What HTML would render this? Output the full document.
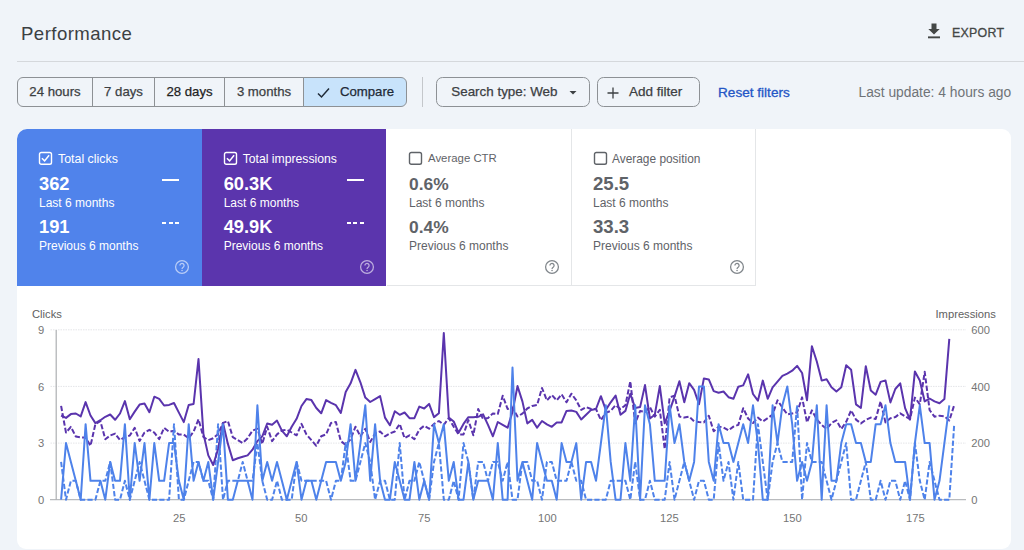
<!DOCTYPE html>
<html><head><meta charset="utf-8">
<style>
*{box-sizing:border-box;margin:0;padding:0}
html,body{width:1024px;height:550px;overflow:hidden;background:#f0f4f9;font-family:"Liberation Sans",sans-serif;color:#1f1f1f}
.abs{position:absolute}
#title{left:21px;top:23px;font-size:18.6px;color:#3c4043;letter-spacing:0.45px}
#hr{left:17px;top:61px;width:1007px;height:1px;background:#d5d8dc}
#export{left:952px;top:25.500px;font-size:12.4px;color:#444746;letter-spacing:0.25px;-webkit-text-stroke:0.3px currentColor}
.seg{top:77px;height:30px;border:1px solid #8d9195;font-size:13.2px;line-height:28.200px;-webkit-text-stroke:0.25px currentColor;text-align:center;color:#3c4043;background:#f0f4f9}
.btn{top:77px;height:30px;border:1px solid #8d9195;border-radius:6.500px;font-size:13.5px;line-height:28.200px;color:#3c4043;-webkit-text-stroke:0.25px currentColor}
#card{left:17px;top:128.500px;width:994px;height:420.500px;background:#fff;border-radius:9px}
.tile{top:128.500px;height:157px;width:185px}
.tile .lab{position:absolute;left:41px;top:23.300px;font-size:12.4px}
.tile .v1{position:absolute;left:22px;top:44.500px;font-size:18.3px;font-weight:bold}
.tile .s1{position:absolute;left:22px;top:67.500px;font-size:12px}
.tile .v2{position:absolute;left:22px;top:87.500px;font-size:18.3px;font-weight:bold}
.tile .s2{position:absolute;left:22px;top:110px;font-size:12px}
.ax{font-size:11.2px;color:#757575}
</style></head><body>
<div class="abs" id="title">Performance</div>
<div class="abs" id="export">EXPORT</div>
<svg class="abs" style="left:926px;top:22px" width="16" height="18" viewBox="0 0 16 18"><path d="M5.5 1.5h5v5.5h3.2L8 12.6 2.3 7h3.2z" fill="#444746"/><rect x="2" y="14.4" width="12" height="1.9" fill="#444746"/></svg>
<div class="abs" id="hr"></div>

<div class="abs seg" style="left:17px;width:76px;border-radius:6px 0 0 6px">24 hours</div>
<div class="abs seg" style="left:92px;width:63px">7 days</div>
<div class="abs seg" style="left:154px;width:71px;color:#1f1f1f">28 days</div>
<div class="abs seg" style="left:224px;width:80px">3 months</div>
<div class="abs seg" style="left:303px;width:104px;border-radius:0 6px 6px 0;background:#c8e3fb;color:#1f2a37;padding-left:24px">Compare</div>
<svg class="abs" style="left:316px;top:85.500px" width="16" height="14" viewBox="0 0 16 14"><path d="M2 7.5l3.5 3.5L13 2.5" fill="none" stroke="#1f2a37" stroke-width="1.5"/></svg>
<div class="abs" style="left:421.500px;top:77px;width:1px;height:30px;background:#c4c7cb"></div>
<div class="abs btn" style="left:436px;width:154px;padding-left:14.3px;font-size:13.4px">Search type: Web</div>
<svg class="abs" style="left:567.500px;top:89.500px" width="10" height="6" viewBox="0 0 10 6"><path d="M1.5 1h7L5 4.6z" fill="#3c4043"/></svg>
<div class="abs btn" style="left:597px;width:103px;padding-left:31px">Add filter</div>
<svg class="abs" style="left:606px;top:85.500px" width="14" height="14" viewBox="0 0 14 14"><path d="M7 1.5v11M1.5 7h11" stroke="#3c4043" stroke-width="1.3"/></svg>
<div class="abs" style="left:718px;top:84.500px;font-size:13.6px;color:#2456c6;-webkit-text-stroke:0.3px currentColor">Reset filters</div>
<div class="abs" style="left:858.500px;top:84.500px;font-size:13.8px;color:#6f7377">Last update: 4 hours ago</div>

<div class="abs" id="card"></div>
<div class="abs tile" style="left:17px;width:184.700px;background:#5083eb;color:#fff;border-radius:10px 0 0 0">
 <div class="lab">Total clicks</div><div class="v1">362</div><div class="s1">Last 6 months</div><div class="v2">191</div><div class="s2">Previous 6 months</div>
</div>
<div class="abs tile" style="left:201.700px;width:184.600px;background:#5b35ad;color:#fff">
 <div class="lab" style="font-size:12.2px">Total impressions</div><div class="v1">60.3K</div><div class="s1">Last 6 months</div><div class="v2">49.9K</div><div class="s2">Previous 6 months</div>
</div>
<div class="abs tile" style="left:387px;color:#5f6368;border-right:1px solid #e4e6e8;border-bottom:1px solid #e4e6e8">
 <div class="lab" style="font-size:11.4px;top:23.800px">Average CTR</div><div class="v1" style="font-size:17.4px;top:45px">0.6%</div><div class="s1">Last 6 months</div><div class="v2" style="font-size:17.4px;top:88px">0.4%</div><div class="s2">Previous 6 months</div>
</div>
<div class="abs tile" style="left:571px;color:#5f6368;border-right:1px solid #e4e6e8;border-bottom:1px solid #e4e6e8">
 <div class="lab" style="font-size:11.9px;top:23.600px">Average position</div><div class="v1" style="font-size:18.6px">25.5</div><div class="s1">Last 6 months</div><div class="v2" style="font-size:18.6px">33.3</div><div class="s2">Previous 6 months</div>
</div>

<svg class="abs" style="left:38.3px;top:150.8px" width="15" height="15" viewBox="0 0 15 15"><rect x="1.5" y="1.500" width="12" height="11.800" rx="1.8" fill="none" stroke="#fff" stroke-width="1.4"/><path d="M3.900 7.300L6.600 9.900L11.100 4.300" fill="none" stroke="#fff" stroke-width="1.5"/></svg>
<svg class="abs" style="left:223.0px;top:150.8px" width="15" height="15" viewBox="0 0 15 15"><rect x="1.5" y="1.500" width="12" height="11.800" rx="1.8" fill="none" stroke="#fff" stroke-width="1.4"/><path d="M3.900 7.300L6.600 9.900L11.100 4.300" fill="none" stroke="#fff" stroke-width="1.5"/></svg>
<svg class="abs" style="left:408.3px;top:150.8px" width="15" height="15" viewBox="0 0 15 15"><rect x="1.5" y="1.500" width="12" height="11.800" rx="1.8" fill="none" stroke="#5f6368" stroke-width="1.4"/></svg>
<svg class="abs" style="left:592.8px;top:150.8px" width="15" height="15" viewBox="0 0 15 15"><rect x="1.5" y="1.500" width="12" height="11.800" rx="1.8" fill="none" stroke="#5f6368" stroke-width="1.4"/></svg>
<svg class="abs" style="left:174.1px;top:258.9px" width="16" height="16" viewBox="0 0 16 16"><circle cx="8" cy="8" r="6.400" fill="none" stroke="rgba(255,255,255,.6)" stroke-width="1.25"/><path d="M5.900 6.500a2.100 2.100 0 1 1 3.300 1.700c-.8.550-1.150.9-1.150 1.750" fill="none" stroke="rgba(255,255,255,.6)" stroke-width="1.25"/><circle cx="8.050" cy="11.450" r=".8" fill="rgba(255,255,255,.6)"/></svg>
<svg class="abs" style="left:358.8px;top:258.9px" width="16" height="16" viewBox="0 0 16 16"><circle cx="8" cy="8" r="6.400" fill="none" stroke="rgba(255,255,255,.6)" stroke-width="1.25"/><path d="M5.900 6.500a2.100 2.100 0 1 1 3.300 1.700c-.8.550-1.150.9-1.150 1.750" fill="none" stroke="rgba(255,255,255,.6)" stroke-width="1.25"/><circle cx="8.050" cy="11.450" r=".8" fill="rgba(255,255,255,.6)"/></svg>
<svg class="abs" style="left:543.9px;top:258.9px" width="16" height="16" viewBox="0 0 16 16"><circle cx="8" cy="8" r="6.400" fill="none" stroke="#80868b" stroke-width="1.25"/><path d="M5.900 6.500a2.100 2.100 0 1 1 3.300 1.700c-.8.550-1.150.9-1.150 1.750" fill="none" stroke="#80868b" stroke-width="1.25"/><circle cx="8.050" cy="11.450" r=".8" fill="#80868b"/></svg>
<svg class="abs" style="left:728.5px;top:258.9px" width="16" height="16" viewBox="0 0 16 16"><circle cx="8" cy="8" r="6.400" fill="none" stroke="#80868b" stroke-width="1.25"/><path d="M5.900 6.500a2.100 2.100 0 1 1 3.300 1.700c-.8.550-1.150.9-1.150 1.750" fill="none" stroke="#80868b" stroke-width="1.25"/><circle cx="8.050" cy="11.450" r=".8" fill="#80868b"/></svg>
<div class="abs" style="left:161.8px;top:179.200px;width:17.700px;height:2px;background:#fff"></div>
<div class="abs" style="left:161.8px;top:222px;width:4.200px;height:2.200px;background:#fff"></div>
<div class="abs" style="left:168.6px;top:222px;width:4.200px;height:2.200px;background:#fff"></div>
<div class="abs" style="left:175.3px;top:222px;width:4.200px;height:2.200px;background:#fff"></div>
<div class="abs" style="left:346.5px;top:179.200px;width:17.700px;height:2px;background:#fff"></div>
<div class="abs" style="left:346.5px;top:222px;width:4.200px;height:2.200px;background:#fff"></div>
<div class="abs" style="left:353.2px;top:222px;width:4.200px;height:2.200px;background:#fff"></div>
<div class="abs" style="left:360.0px;top:222px;width:4.200px;height:2.200px;background:#fff"></div>
<svg class="abs" id="chart" style="left:0;top:290px" width="1024" height="260" viewBox="0 290 1024 260">
<g stroke="#e4e5e8" stroke-width="1" stroke-dasharray="1.5 1"><path d="M50.500 329.800H966M50.500 386.400H966M50.500 443.100H966"/></g>
<path d="M50 499.700H966" stroke="#b9bbbe" stroke-width="1.2"/>
<path d="M56.200 330V499.700" stroke="#adafb2" stroke-width="1.2"/>
<!--S0-->
<g fill="none" stroke-linejoin="round" stroke-linecap="butt">
<path d="M61.1 405.9L66.0 432.6L70.9 426.9L75.8 436.5L80.7 437.4L85.6 437.4L90.5 445.8L95.4 424.0L100.4 421.2L105.3 439.3L110.2 435.5L115.1 433.6L120.0 440.1L124.9 437.2L129.8 435.5L134.7 427.9L139.6 441.0L144.5 432.6L149.4 429.8L154.3 432.6L159.2 439.2L164.1 427.9L169.1 431.7L174.0 430.7L178.9 434.6L183.8 434.6L188.7 438.2L193.6 431.7L198.5 419.3L203.4 437.0L208.3 440.1L213.2 438.2L218.1 434.0L223.0 422.9L227.9 421.0L232.8 437.2L237.8 440.1L242.7 443.0L247.6 438.2L252.5 430.6L257.4 428.7L262.3 443.9L267.2 426.7L272.1 441.1L277.0 434.4L281.9 430.6L286.8 429.6L291.7 432.5L296.6 435.3L301.5 423.9L306.4 434.4L311.4 440.1L316.3 445.8L321.2 436.3L326.1 434.4L331.0 422.9L335.9 422.0L340.8 441.1L345.7 444.9L350.6 439.2L355.5 426.7L360.4 436.3L365.3 428.7L370.2 442.0L375.1 433.4L380.1 431.5L385.0 436.3L389.9 433.4L394.8 431.5L399.7 423.9L404.6 438.2L409.5 435.3L414.4 439.2L419.3 429.6L424.2 425.8L429.1 428.7L434.0 423.9L438.9 421.0L443.8 424.8L448.8 418.1L453.7 426.7L458.6 434.4L463.5 434.4L468.4 420.1L473.3 435.3L478.2 409.0L483.1 419.1L488.0 418.1L492.9 413.4L497.8 414.0L502.7 395.7L507.6 409.0L512.5 407.5L517.5 416.5L522.4 413.6L527.3 408.5L532.2 406.0L537.1 405.0L542.0 388.0L546.9 400.4L551.8 395.0L556.7 400.4L561.6 394.3L566.5 402.3L571.4 393.7L576.3 400.4L581.2 409.9L586.1 407.1L591.1 409.0L596.0 409.0L600.9 420.1L605.8 412.8L610.7 410.9L615.6 405.2L620.5 409.0L625.4 405.2L630.3 381.3L635.2 423.3L640.1 410.9L645.0 411.9L649.9 407.1L654.8 416.6L659.8 409.9L664.7 449.0L669.6 397.5L674.5 395.6L679.4 416.6L684.3 417.6L689.2 416.6L694.1 421.4L699.0 422.0L703.9 422.4L708.8 415.7L713.7 431.3L718.6 426.6L723.5 427.5L728.5 430.4L733.4 426.6L738.3 424.9L743.2 408.2L748.1 418.5L753.0 423.0L757.9 417.6L762.8 421.4L767.7 418.2L772.6 414.6L777.5 400.3L782.4 407.5L787.3 414.4L792.2 413.5L797.1 412.5L802.1 397.4L807.0 422.3L811.9 410.4L816.8 419.5L821.7 424.9L826.6 429.0L831.5 423.0L836.4 420.4L841.3 429.0L846.2 421.8L851.1 410.4L856.0 419.6L860.9 423.4L865.8 419.9L870.8 417.6L875.7 419.0L880.6 401.4L885.5 422.4L890.4 418.2L895.3 417.1L900.2 413.3L905.1 416.3L910.0 419.0L914.9 397.6L919.8 404.3L924.7 371.8L929.6 410.0L934.5 416.7L939.5 415.7L944.4 416.3L949.3 420.5L954.2 405.2" stroke="#5a34ad" stroke-width="2" stroke-dasharray="5.2 2.2"/>
<path d="M61.1 461.9L66.0 499.7L70.9 480.8L75.8 480.8L80.7 499.7L85.6 499.7L90.5 499.7L95.4 499.7L100.4 480.8L105.3 480.8L110.2 461.9L115.1 499.7L120.0 499.7L124.9 480.8L129.8 499.7L134.7 480.8L139.6 461.9L144.5 480.8L149.4 499.7L154.3 499.7L159.2 499.7L164.1 499.7L169.1 499.7L174.0 424.2L178.9 499.7L183.8 499.7L188.7 480.8L193.6 461.9L198.5 461.9L203.4 480.8L208.3 480.8L213.2 499.7L218.1 424.2L223.0 499.7L227.9 480.8L232.8 480.8L237.8 480.8L242.7 461.9L247.6 480.8L252.5 480.8L257.4 443.1L262.3 480.8L267.2 499.7L272.1 499.7L277.0 480.8L281.9 499.7L286.8 499.7L291.7 499.7L296.6 461.9L301.5 480.8L306.4 480.8L311.4 480.8L316.3 480.8L321.2 480.8L326.1 480.8L331.0 499.7L335.9 480.8L340.8 480.8L345.7 443.1L350.6 480.8L355.5 480.8L360.4 461.9L365.3 443.1L370.2 461.9L375.1 499.7L380.1 480.8L385.0 480.8L389.9 499.7L394.8 499.7L399.7 443.1L404.6 499.7L409.5 480.8L414.4 480.8L419.3 461.9L424.2 480.8L429.1 499.7L434.0 461.9L438.9 443.1L443.8 499.7L448.8 499.7L453.7 480.8L458.6 499.7L463.5 443.1L468.4 461.9L473.3 499.7L478.2 461.9L483.1 461.9L488.0 480.8L492.9 461.9L497.8 461.9L502.7 480.8L507.6 461.9L512.5 499.7L517.5 499.7L522.4 461.9L527.3 461.9L532.2 480.8L537.1 480.8L542.0 499.7L546.9 461.9L551.8 461.9L556.7 480.8L561.6 480.8L566.5 480.8L571.4 461.9L576.3 480.8L581.2 480.8L586.1 499.7L591.1 499.7L596.0 499.7L600.9 499.7L605.8 499.7L610.7 480.8L615.6 480.8L620.5 480.8L625.4 480.8L630.3 499.7L635.2 461.9L640.1 499.7L645.0 499.7L649.9 480.8L654.8 499.7L659.8 499.7L664.7 499.7L669.6 461.9L674.5 499.7L679.4 480.8L684.3 461.9L689.2 480.8L694.1 499.7L699.0 480.8L703.9 480.8L708.8 499.7L713.7 499.7L718.6 443.1L723.5 480.8L728.5 461.9L733.4 499.7L738.3 461.9L743.2 499.7L748.1 499.7L753.0 499.7L757.9 424.2L762.8 461.9L767.7 499.7L772.6 461.9L777.5 443.1L782.4 461.9L787.3 461.9L792.2 461.9L797.1 405.3L802.1 499.7L807.0 443.1L811.9 461.9L816.8 461.9L821.7 461.9L826.6 480.8L831.5 499.7L836.4 480.8L841.3 461.9L846.2 443.1L851.1 499.7L856.0 499.7L860.9 480.8L865.8 461.9L870.8 499.7L875.7 499.7L880.6 480.8L885.5 499.7L890.4 480.8L895.3 480.8L900.2 499.7L905.1 480.8L910.0 499.7L914.9 443.1L919.8 480.8L924.7 499.7L929.6 461.9L934.5 480.8L939.5 499.7L944.4 499.7L949.3 499.7L954.2 424.2" stroke="#4e82ea" stroke-width="2" stroke-dasharray="5.2 2.2"/>
<path d="M61.1 415.5L66.0 417.9L70.9 414.1L75.8 413.5L80.7 416.4L85.6 402.1L90.5 415.5L95.4 423.1L100.4 420.2L105.3 416.8L110.2 414.5L115.1 419.8L120.0 413.5L124.9 401.1L129.8 419.3L134.7 411.6L139.6 404.6L144.5 403.6L149.4 412.2L154.3 396.7L159.2 398.8L164.1 405.5L169.1 404.9L174.0 403.0L178.9 412.6L183.8 422.1L188.7 404.9L193.6 404.0L198.5 359.1L203.4 433.6L208.3 455.4L213.2 465.0L218.1 449.0L223.0 422.9L227.9 443.9L232.8 460.2L237.8 458.3L242.7 456.7L247.6 455.4L252.5 449.7L257.4 441.1L262.3 436.3L267.2 423.5L272.1 424.8L277.0 420.6L281.9 430.6L286.8 436.3L291.7 426.7L296.6 418.8L301.5 406.0L306.4 399.1L311.4 400.1L316.3 408.0L321.2 413.3L326.1 400.1L331.0 402.9L335.9 405.2L340.8 412.9L345.7 391.9L350.6 383.3L355.5 369.9L360.4 382.3L365.3 397.6L370.2 402.0L375.1 399.1L380.1 396.1L385.0 417.6L389.9 425.3L394.8 411.3L399.7 414.8L404.6 412.5L409.5 418.2L414.4 418.2L419.3 406.6L424.2 408.5L429.1 403.9L434.0 417.1L438.9 413.3L443.8 333.0L448.8 417.6L453.7 421.5L458.6 432.8L463.5 423.9L468.4 417.2L473.3 417.2L478.2 416.8L483.1 414.3L488.0 424.8L492.9 436.3L497.8 422.0L502.7 424.8L507.6 427.7L512.5 411.9L517.5 386.1L522.4 401.4L527.3 423.4L532.2 419.9L537.1 427.7L542.0 421.0L546.9 424.3L551.8 426.8L556.7 422.4L561.6 422.4L566.5 410.9L571.4 410.5L576.3 411.9L581.2 419.5L586.1 414.7L591.1 409.9L596.0 409.0L600.9 396.2L605.8 409.9L610.7 402.3L615.6 395.6L620.5 414.7L625.4 410.9L630.3 393.7L635.2 408.0L640.1 407.1L645.0 385.1L649.9 418.5L654.8 414.7L659.8 386.1L664.7 423.3L669.6 410.9L674.5 396.6L679.4 381.3L684.3 402.3L689.2 383.2L694.1 389.9L699.0 404.2L703.9 378.4L708.8 379.4L713.7 391.1L718.6 392.7L723.5 391.5L728.5 397.2L733.4 398.8L738.3 386.7L743.2 385.4L748.1 374.3L753.0 394.0L757.9 400.7L762.8 380.6L767.7 398.8L772.6 387.3L777.5 381.6L782.4 375.8L787.3 373.6L792.2 370.7L797.1 365.9L802.1 373.0L807.0 400.3L811.9 346.2L816.8 361.5L821.7 380.6L826.6 379.3L831.5 387.3L836.4 391.5L841.3 387.3L846.2 365.3L851.1 369.7L856.0 404.4L860.9 408.0L865.8 366.2L870.8 390.5L875.7 394.7L880.6 381.9L885.5 380.4L890.4 402.4L895.3 389.0L900.2 383.3L905.1 408.1L910.0 419.6L914.9 371.4L919.8 380.4L924.7 401.4L929.6 398.5L934.5 401.4L939.5 403.3L944.4 399.1L949.3 338.8" stroke="#5a34ad" stroke-width="2"/>
<path d="M61.1 499.7L66.0 443.1L70.9 461.9L75.8 480.8L80.7 499.7L85.6 424.2L90.5 480.8L95.4 480.8L100.4 480.8L105.3 499.7L110.2 461.9L115.1 480.8L120.0 480.8L124.9 424.2L129.8 499.7L134.7 443.1L139.6 480.8L144.5 443.1L149.4 499.7L154.3 443.1L159.2 480.8L164.1 480.8L169.1 443.1L174.0 443.1L178.9 480.8L183.8 499.7L188.7 424.2L193.6 480.8L198.5 461.9L203.4 480.8L208.3 461.9L213.2 499.7L218.1 461.9L223.0 424.2L227.9 499.7L232.8 499.7L237.8 480.8L242.7 480.8L247.6 480.8L252.5 499.7L257.4 405.3L262.3 480.8L267.2 461.9L272.1 480.8L277.0 461.9L281.9 480.8L286.8 499.7L291.7 480.8L296.6 461.9L301.5 499.7L306.4 480.8L311.4 480.8L316.3 499.7L321.2 480.8L326.1 461.9L331.0 461.9L335.9 461.9L340.8 480.8L345.7 461.9L350.6 424.2L355.5 480.8L360.4 443.1L365.3 405.3L370.2 480.8L375.1 424.2L380.1 480.8L385.0 499.7L389.9 499.7L394.8 461.9L399.7 480.8L404.6 499.7L409.5 499.7L414.4 461.9L419.3 499.7L424.2 480.8L429.1 499.7L434.0 424.2L438.9 443.1L443.8 424.2L448.8 480.8L453.7 461.9L458.6 499.7L463.5 499.7L468.4 461.9L473.3 499.7L478.2 480.8L483.1 480.8L488.0 480.8L492.9 499.7L497.8 443.1L502.7 499.7L507.6 499.7L512.5 367.5L517.5 480.8L522.4 461.9L527.3 480.8L532.2 499.7L537.1 443.1L542.0 461.9L546.9 480.8L551.8 480.8L556.7 499.7L561.6 443.1L566.5 461.9L571.4 461.9L576.3 443.1L581.2 499.7L586.1 461.9L591.1 461.9L596.0 480.8L600.9 443.1L605.8 405.3L610.7 461.9L615.6 499.7L620.5 499.7L625.4 443.1L630.3 480.8L635.2 405.3L640.1 499.7L645.0 405.3L649.9 424.2L654.8 480.8L659.8 480.8L664.7 480.8L669.6 405.3L674.5 443.1L679.4 424.2L684.3 461.9L689.2 480.8L694.1 461.9L699.0 386.4L703.9 386.4L708.8 461.9L713.7 480.8L718.6 424.2L723.5 443.1L728.5 443.1L733.4 461.9L738.3 443.1L743.2 424.2L748.1 443.1L753.0 405.3L757.9 443.1L762.8 499.7L767.7 499.7L772.6 405.3L777.5 443.1L782.4 405.3L787.3 386.4L792.2 424.2L797.1 480.8L802.1 461.9L807.0 480.8L811.9 461.9L816.8 405.3L821.7 499.7L826.6 405.3L831.5 480.8L836.4 480.8L841.3 443.1L846.2 424.2L851.1 424.2L856.0 443.1L860.9 443.1L865.8 461.9L870.8 461.9L875.7 424.2L880.6 424.2L885.5 405.3L890.4 443.1L895.3 461.9L900.2 461.9L905.1 461.9L910.0 499.7L914.9 443.1L919.8 405.3L924.7 443.1L929.6 443.1L934.5 499.7L939.5 480.8L944.4 443.1L949.3 405.3" stroke="#4e82ea" stroke-width="2"/>
</g>
<!--S1-->
</svg>
<div class="abs ax" style="left:32px;top:308px;color:#616161">Clicks</div>
<div class="abs ax" style="left:935.500px;top:308px;color:#616161">Impressions</div>
<div class="abs ax" style="left:38px;top:323.800px">9</div>
<div class="abs ax" style="left:38px;top:380.7px">6</div>
<div class="abs ax" style="left:38px;top:437.3px">3</div>
<div class="abs ax" style="left:38px;top:493.6px">0</div>
<div class="abs ax" style="left:971.300px;top:323.800px">600</div>
<div class="abs ax" style="left:971.300px;top:380.7px">400</div>
<div class="abs ax" style="left:971.300px;top:437.3px">200</div>
<div class="abs ax" style="left:971.300px;top:493.6px">0</div>
<div class="abs ax" style="left:173px;top:512px">25</div>
<div class="abs ax" style="left:295px;top:512px">50</div>
<div class="abs ax" style="left:418px;top:512px">75</div>
<div class="abs ax" style="left:538px;top:512px">100</div>
<div class="abs ax" style="left:660px;top:512px">125</div>
<div class="abs ax" style="left:783px;top:512px">150</div>
<div class="abs ax" style="left:906px;top:512px">175</div>
</body></html>
